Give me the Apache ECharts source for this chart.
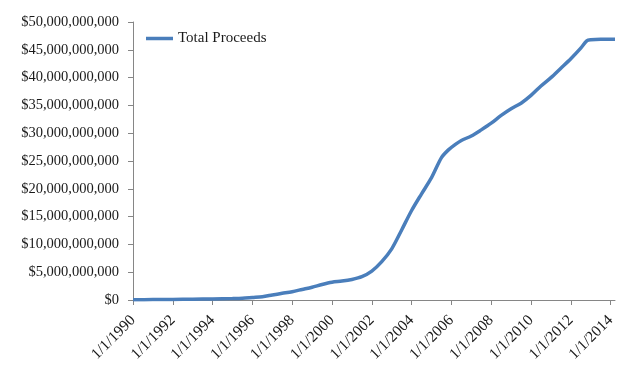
<!DOCTYPE html>
<html>
<head>
<meta charset="utf-8">
<script src="https://cdn.jsdelivr.net/npm/echarts@6/dist/echarts.min.js"></script>
<style>
html,body{margin:0;padding:0;background:#fff;}
#chart{width:630px;height:381px;}
</style>
</head>
<body>
<div id="chart"></div>
<script>
// Dates (year + fraction of year) and cumulative total proceeds (billions of dollars)
var dates = [1990.0, 1991.0, 1992.0, 1993.0, 1994.0, 1995.0, 1995.5, 1996.0, 1996.5, 1997.0,
  1997.5, 1998.0, 1998.5, 1999.0, 1999.5, 2000.0, 2000.5, 2001.0, 2001.5, 2002.0,
  2002.5, 2003.0, 2003.5, 2004.0, 2004.5, 2005.0, 2005.5, 2005.85, 2006.2, 2006.5,
  2007.0, 2007.5, 2008.0, 2008.5, 2009.0, 2009.5, 2010.0, 2010.5, 2011.0, 2011.5,
  2012.0, 2012.5, 2012.8, 2013.0, 2013.5, 2014.22];
var proceedsBillions = [0.05, 0.07, 0.1, 0.15, 0.2, 0.25, 0.3, 0.45, 0.6, 0.9,
  1.2, 1.5, 1.9, 2.3, 2.8, 3.2, 3.4, 3.7, 4.2, 5.2,
  6.9, 9.2, 12.6, 16.1, 19.1, 22.0, 25.6, 27.0, 28.0, 28.7,
  29.5, 30.6, 31.8, 33.2, 34.4, 35.4, 36.8, 38.5, 40.0, 41.7,
  43.4, 45.3, 46.6, 46.8, 46.9, 46.9];
var xTickYears = [1990, 1992, 1994, 1996, 1998, 2000, 2002, 2004, 2006, 2008, 2010, 2012, 2014];
var seriesName = 'Total Proceeds';

var data = dates.map(function (d, i) { return [d, proceedsBillions[i] * 1e9]; });
var font = '"Liberation Serif", "Times New Roman", serif';
var axisColor = '#868686';
var textColor = '#1a1a1a';

var chart = echarts.init(document.getElementById('chart'), null, {renderer: 'canvas'});
chart.setOption({
  animation: false,
  backgroundColor: '#fff',
  grid: {left: 133, right: 15, top: 22, bottom: 81, containLabel: false},
  legend: {
    show: true,
    left: 141, top: 26,
    icon: 'rect',
    itemWidth: 27, itemHeight: 3.5,
    textStyle: {fontFamily: font, fontSize: 15, color: textColor},
    data: [{name: seriesName, icon: 'rect'}]
  },
  xAxis: {
    type: 'value',
    min: 1990, max: dates[dates.length - 1],
    splitLine: {show: false},
    axisLine: {show: true, onZero: false, lineStyle: {color: axisColor, width: 1}},
    axisTick: {show: true, length: 5, lineStyle: {color: axisColor}, customValues: xTickYears},
    axisLabel: {
      customValues: xTickYears,
      rotate: 45, margin: 18,
      fontFamily: font, fontSize: 15.5, color: textColor,
      formatter: function (v) { return '1/1/' + Math.round(v); }
    }
  },
  yAxis: {
    type: 'value',
    min: 0, max: 50e9, interval: 5e9,
    splitLine: {show: false},
    axisLine: {show: true, lineStyle: {color: axisColor, width: 1}},
    axisTick: {show: true, length: 5, lineStyle: {color: axisColor}},
    axisLabel: {
      margin: 14,
      fontFamily: font, fontSize: 14.5, color: textColor,
      formatter: function (v) { return '$' + Math.round(v).toLocaleString('en-US'); }
    }
  },
  series: [{
    name: seriesName,
    type: 'line',
    data: data,
    smooth: 0.3,
    showSymbol: false,
    symbol: 'none',
    lineStyle: {color: '#4a7ebb', width: 3.5},
    itemStyle: {color: '#4a7ebb'}
  }]
});
</script>
</body>
</html>
